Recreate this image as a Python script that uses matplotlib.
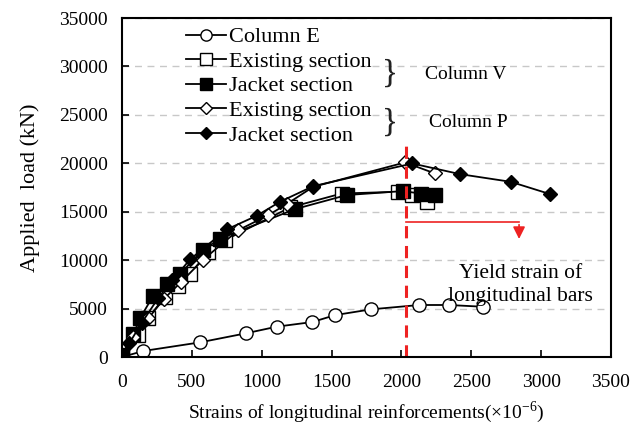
import matplotlib.pyplot as plt

plt.rcParams['font.family'] = ['Liberation Serif', 'DejaVu Serif']

# Column E
e_x = [0, 153, 558, 885, 1107, 1362, 1527, 1782, 2128, 2341, 2582]
e_y = [0, 620, 1510, 2440, 3130, 3610, 4330, 4920, 5370, 5370, 5190]

# Column V - existing section
ve_x = [0, 117, 189, 308, 403, 487, 618, 737, 1203, 1572, 1972, 2073, 2185]
ve_y = [0, 2270, 4060, 6230, 7330, 8570, 10870, 12070, 15440, 16880, 17060, 16720, 16030]

# Column V - jacket section
vj_x = [0, 81, 129, 224, 319, 415, 578, 701, 1238, 1608, 2009, 2138, 2240]
vj_y = [200, 2340, 4000, 6330, 7500, 8570, 11040, 12210, 15270, 16720, 17130, 16880, 16720]

# Column P - existing section
pe_x = [0, 76, 189, 300, 420, 578, 833, 1048, 1179, 1369, 2026, 2240]
pe_y = [0, 2100, 3990, 6000, 7700, 10010, 13100, 14650, 15790, 17570, 20090, 18950]

# Column P - jacket section
pj_x = [0, 52, 140, 260, 360, 487, 749, 964, 1131, 1369, 2078, 2420, 2782, 3064]
pj_y = [0, 1410, 3500, 6100, 7900, 10080, 13170, 14580, 16030, 17640, 19980, 18880, 18090, 16820]

yield_strain = 2030

fig = plt.figure(figsize=(6.34, 4.33), dpi=100)
ax = fig.add_axes([0.1924, 0.1755, 0.7713, 0.7829])

lw = 1.3
ax.plot(e_x, e_y, '-o', color='black', mfc='white', ms=9.5, lw=lw, label='Column E')
ax.plot(ve_x, ve_y, '-s', color='black', mfc='white', ms=10, lw=lw, label='Existing section')
ax.plot(vj_x, vj_y, '-s', color='black', mfc='black', ms=10, lw=lw, label='Jacket section')
ax.plot(pe_x, pe_y, '-D', color='black', mfc='white', ms=7, lw=lw, label='Existing section')
ax.plot(pj_x, pj_y, '-D', color='black', mfc='black', ms=7, lw=lw, label='Jacket section')

ax.set_xlim(0, 3500)
ax.set_ylim(0, 35000)
ax.set_xticks(range(0, 3501, 500))
ax.set_yticks(range(0, 35001, 5000))
ax.yaxis.grid(True, ls=(0, (5, 4)), color='#c8c8c8', lw=1)
ax.set_axisbelow(True)
ax.tick_params(direction='in', labelsize=14, width=1.2, length=5)
ax.tick_params(axis='x', pad=12)
ax.tick_params(axis='y', pad=10)
for s in ax.spines.values():
    s.set_linewidth(1.5)

ax.set_xlabel('Strains of longitudinal reinforcements(\u00d710$^{\\mathregular{-6}}$)', fontsize=14, labelpad=6)
ax.set_ylabel('Applied  load (kN)', fontsize=16, labelpad=14)

ax.legend(loc='upper left', bbox_to_anchor=(0.1, 1.02), frameon=False, fontsize=16,
          handlelength=1.8, handletextpad=0.1, labelspacing=0.18, borderpad=0.2,
          markerscale=0.85)

# braces
ax.text(1860, 29300, '}', fontsize=24, va='center', ha='left', color='#222222')
ax.text(2170, 29200, 'Column V', fontsize=14, va='center', ha='left')
ax.text(1860, 24250, '}', fontsize=24, va='center', ha='left', color='#222222')
ax.text(2200, 24250, 'Column P', fontsize=14, va='center', ha='left')

# yield line and arrow
ax.plot([yield_strain, yield_strain], [0, 22100], ls=(0, (4, 2.5)), color='#ee2222', lw=2.2)
ax.plot([yield_strain, 2842], [13950, 13950], color='#ee2222', lw=1.2)
ax.annotate('', xy=(2842, 11900), xytext=(2842, 13950),
            arrowprops=dict(arrowstyle='-|>', color='#ee2222', lw=1.2, mutation_scale=18))
ax.text(2855, 7450, 'Yield strain of\nlongitudinal bars', fontsize=15.5, ha='center', va='center',
        linespacing=1.25)

fig.savefig('out.png', dpi=100)
